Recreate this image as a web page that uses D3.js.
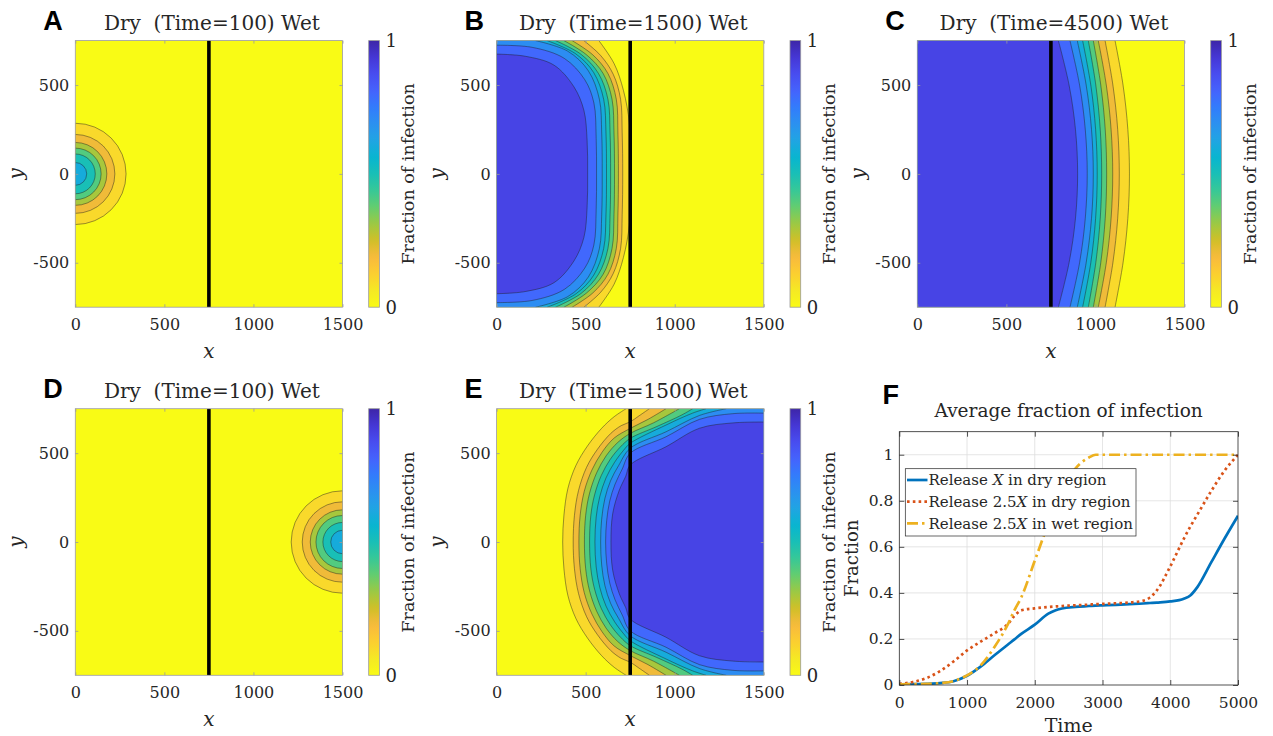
<!DOCTYPE html>
<html>
<head>
<meta charset="utf-8">
<script src="https://cdn.jsdelivr.net/npm/d3@7"></script>
<style>
  html, body { margin: 0; padding: 0; background: #ffffff; }
  svg { display: block; }
  text { font-family: "DejaVu Serif", serif; fill: #262626; }
</style>
</head>
<body>
<script>
// ---------------------------------------------------------------
// Data
// ---------------------------------------------------------------
const contourLevels = [0.1, 0.2, 0.3, 0.4, 0.5, 0.6, 0.7, 0.8, 0.9];
const xTicks = [0, 500, 1000, 1500];
const yTicks = [-500, 0, 500];
const interfaceX = 750;

// Time = 100: radii of the contour circles around the release point (levels 0.1 ... 0.6)
const dryReleaseRadii = [285, 222, 177, 145, 112, 64];
const wetReleaseRadii = [288, 226, 181, 149, 110, 66];

// Contour lines, upper half (y >= 0), listed from y = 0 out to the domain edge.
// Release in the dry region, Time = 1500 (levels 0.1 ... 0.9)
const dryT1500 = [
  [[748, 0], [748, 150], [745, 290], [712, 470], [660, 620], [574, 750]],
  [[708, 0], [705, 230], [696, 420], [655, 560], [585, 665], [490, 750]],
  [[684, 0], [681, 230], [672, 420], [625, 565], [540, 670], [424, 750]],
  [[662, 0], [659, 230], [648, 420], [598, 565], [505, 670], [378, 750]],
  [[640, 0], [637, 230], [625, 420], [572, 565], [475, 672], [331, 750]],
  [[617, 0], [614, 230], [601, 420], [545, 570], [445, 675], [284, 750]],
  [[593, 0], [590, 230], [577, 420], [515, 580], [400, 690], [219, 750]],
  [[561, 0], [559, 200], [546, 400], [495, 530], [380, 650], [200, 712], [0, 724]],
  [[511, 0], [508, 190], [490, 358], [434, 490], [322, 612], [160, 662], [0, 674]]
];

// Release in the dry region, Time = 4500
const dryT4500 = [
  [[1191, 0], [1182, 250], [1155, 500], [1110, 750]],
  [[1134, 0], [1125, 250], [1098, 500], [1054, 750]],
  [[1097, 0], [1088, 250], [1061, 500], [1016, 750]],
  [[1063, 0], [1055, 250], [1030, 500], [988, 750]],
  [[1035, 0], [1027, 250], [1002, 500], [960, 750]],
  [[1010, 0], [1001, 250], [974, 500], [928, 750]],
  [[988, 0], [978, 250], [948, 500], [898, 750]],
  [[954, 0], [943, 250], [911, 500], [857, 750]],
  [[900, 0], [888, 250], [852, 500], [792, 750]]
];

// Release in the wet region, Time = 1500
const wetT1500 = [
  [[371, 0], [378, 150], [400, 300], [445, 430], [510, 540], [590, 640], [660, 705], [727, 750]],
  [[430, 0], [437, 150], [460, 290], [505, 420], [565, 520], [640, 610], [700, 655], [750, 676], [800, 710], [858, 750]],
  [[462, 0], [469, 150], [492, 285], [535, 405], [592, 505], [660, 585], [750, 639], [850, 690], [951, 750]],
  [[493, 0], [500, 150], [522, 275], [562, 390], [615, 485], [680, 560], [750, 611], [880, 670], [1026, 750]],
  [[522, 0], [529, 150], [550, 265], [588, 375], [638, 465], [695, 535], [750, 583], [900, 650], [1040, 715], [1101, 750]],
  [[552, 0], [559, 140], [579, 255], [614, 360], [662, 448], [712, 515], [750, 555], [951, 658], [1100, 725], [1176, 750]],
  [[584, 0], [590, 130], [608, 245], [640, 345], [685, 430], [750, 527], [951, 620], [1139, 712], [1289, 750]],
  [[612, 0], [618, 120], [635, 230], [665, 325], [705, 410], [750, 499], [951, 592], [1139, 690], [1326, 722], [1500, 725]],
  [[642, 0], [652, 161], [689, 292], [725, 370], [750, 433], [951, 536], [1139, 640], [1326, 670], [1500, 675]]
];

// Average fraction of infection over time
const time = [0, 200, 400, 600, 800, 1000, 1200, 1400, 1600, 1700, 1800, 2000, 2200, 2300, 2400, 2600,
              2800, 2900, 3000, 3200, 3400, 3600, 3700, 3800, 4000, 4200, 4300, 4400, 4600, 4800, 5000];
const releaseXDry = [0.003, 0.004, 0.005, 0.008, 0.016, 0.040, 0.080, 0.128, 0.175, 0.198, 0.222, 0.262,
                     0.310, 0.324, 0.332, 0.339, 0.343, 0.345, 0.346, 0.348, 0.351, 0.354, 0.356, 0.358,
                     0.363, 0.375, 0.390, 0.425, 0.530, 0.635, 0.735];
const release25XDry = [0.005, 0.013, 0.030, 0.060, 0.102, 0.150, 0.188, 0.224, 0.264, 0.300, 0.324, 0.333,
                       0.339, 0.341, 0.343, 0.346, 0.349, 0.351, 0.352, 0.355, 0.358, 0.366, 0.380, 0.410,
                       0.515, 0.635, 0.690, 0.740, 0.840, 0.930, 1.000];
const release25XWet = [0.003, 0.004, 0.005, 0.008, 0.017, 0.042, 0.085, 0.163, 0.262, 0.325, 0.380, 0.540,
                       0.700, 0.772, 0.845, 0.940, 0.988, 1.000, 1.000, 1.000, 1.000, 1.000, 1.000, 1.000,
                       1.000, 1.000, 1.000, 1.000, 1.000, 1.000, 1.000];
const timeTicks = [0, 1000, 2000, 3000, 4000, 5000];
const fractionTicks = [0, 0.2, 0.4, 0.6, 0.8, 1];
const seriesNames = ["Release |X| in dry region", "Release 2.5|X| in dry region", "Release 2.5|X| in wet region"];

// ---------------------------------------------------------------
// Colour map: parula, reversed so that 0 is yellow and 1 is dark blue
// ---------------------------------------------------------------
const parulaStops = ["#3e26a8", "#4537d5", "#484df0", "#4563fd", "#327cfc", "#2b91ef", "#20a5e3",
                     "#08b5d0", "#19bfb6", "#37c897", "#64cd6f", "#9dc943", "#d1bf27", "#f8ba3d",
                     "#fccf30", "#f5e924", "#f9fb15"];
const parula = d3.scaleLinear()
  .domain(parulaStops.map((_, i) => i / (parulaStops.length - 1)))
  .range(parulaStops)
  .interpolate(d3.interpolateRgb);
const fillColour = v => parula(1 - v);

// plain number labels with an ASCII minus sign
const plainNumber = d => String(d);

// ---------------------------------------------------------------
// Layout
// ---------------------------------------------------------------
const W = 1273, H = 736;
const svg = d3.select("body").append("svg").attr("width", W).attr("height", H);
const defs = svg.append("defs");

const colLeft = [75.3, 496.6, 917.3];
const rowTop = [40.6, 408.7];
const plotW = 267.2, plotH = 266.6;
const cbOffset = 293.4, cbW = 10.7;

// colour bar gradient
const grad = defs.append("linearGradient").attr("id", "cbGrad")
  .attr("x1", 0).attr("y1", 1).attr("x2", 0).attr("y2", 0);
d3.range(0, 1.0001, 0.02).forEach(v => {
  grad.append("stop").attr("offset", v).attr("stop-color", fillColour(v));
});

const panels = [
  { id: "A", time: 100,  col: 0, row: 0, kind: "disc", cx: 0, radii: dryReleaseRadii },
  { id: "B", time: 1500, col: 1, row: 0, kind: "lines", lines: dryT1500, highSide: 0 },
  { id: "C", time: 4500, col: 2, row: 0, kind: "lines", lines: dryT4500, highSide: 0 },
  { id: "D", time: 100,  col: 0, row: 1, kind: "disc", cx: 1500, radii: wetReleaseRadii },
  { id: "E", time: 1500, col: 1, row: 1, kind: "lines", lines: wetT1500, highSide: 1500 }
];

function panelLetter(letter, x, y) {
  svg.append("text").attr("x", x).attr("y", y)
    .style("font-family", "'Liberation Sans', Arial, sans-serif")
    .style("font-weight", "bold").style("font-size", "27px").style("fill", "#000")
    .text(letter);
}

function contourPanel(p) {
  const left = colLeft[p.col], top = rowTop[p.row];
  const x = d3.scaleLinear().domain([0, 1500]).range([left, left + plotW]);
  const y = d3.scaleLinear().domain([-750, 750]).range([top + plotH, top]);
  const g = svg.append("g");

  defs.append("clipPath").attr("id", "clip" + p.id)
    .append("rect").attr("x", left).attr("y", top).attr("width", plotW).attr("height", plotH);
  const body = g.append("g").attr("clip-path", `url(#clip${p.id})`);

  body.append("rect").attr("x", left).attr("y", top).attr("width", plotW).attr("height", plotH)
    .attr("fill", fillColour(0));

  const strokeStyle = s => s.attr("stroke", "#202020").attr("stroke-opacity", 0.75)
    .attr("stroke-width", 0.6);

  if (p.kind === "disc") {
    p.radii.forEach((r, i) => {
      body.append("ellipse")
        .attr("cx", x(p.cx)).attr("cy", y(0))
        .attr("rx", x(r) - x(0)).attr("ry", y(0) - y(r))
        .attr("fill", fillColour(contourLevels[i]))
        .call(strokeStyle);
    });
  } else {
    const line = d3.line().x(d => x(d[0])).y(d => y(d[1])).curve(d3.curveCatmullRom.alpha(0.5));
    const fullLines = p.lines.map(upper => {
      const topHalf = upper.slice().reverse();
      const bottomHalf = upper.slice(1).map(([a, b]) => [a, -b]);
      return topHalf.concat(bottomHalf);
    });
    fullLines.forEach((pts, i) => {
      const first = pts[0], last = pts[pts.length - 1];
      const d = line(pts) +
        `L${x(p.highSide)},${y(last[1])}L${x(p.highSide)},${y(first[1])}Z`;
      body.append("path").attr("d", d).attr("fill", fillColour(contourLevels[i])).attr("stroke", "none");
    });
    fullLines.forEach(pts => {
      body.append("path").attr("d", line(pts)).attr("fill", "none").call(strokeStyle);
    });
  }

  // wet / dry interface
  body.append("line").attr("x1", x(interfaceX)).attr("x2", x(interfaceX))
    .attr("y1", top).attr("y2", top + plotH)
    .attr("stroke", "#000").attr("stroke-width", 3.6);

  // axes
  const axisColour = "#9a9a9a";
  const styleAxis = sel => {
    sel.select(".domain").remove();
    sel.selectAll(".tick line").attr("stroke", axisColour).attr("stroke-width", 0.8);
    sel.selectAll(".tick text").attr("font-family", null).style("font-size", "16px")
      .style("font-family", "'DejaVu Serif', serif").attr("fill", "#262626");
  };
  g.append("g").attr("transform", `translate(0,${top + plotH})`)
    .call(d3.axisBottom(x).tickValues(xTicks).tickFormat(plainNumber)
      .tickSizeInner(-3).tickSizeOuter(0).tickPadding(11.6))
    .call(styleAxis);
  g.append("g").attr("transform", `translate(0,${top})`)
    .call(d3.axisTop(x).tickValues(xTicks).tickSizeInner(-3).tickSizeOuter(0).tickFormat(""))
    .call(styleAxis);
  g.append("g").attr("transform", `translate(${left},0)`)
    .call(d3.axisLeft(y).tickValues(yTicks).tickFormat(plainNumber)
      .tickSizeInner(-3).tickSizeOuter(0).tickPadding(6))
    .call(styleAxis);
  g.append("g").attr("transform", `translate(${left + plotW},0)`)
    .call(d3.axisRight(y).tickValues(yTicks).tickSizeInner(-3).tickSizeOuter(0).tickFormat(""))
    .call(styleAxis);

  g.append("rect").attr("x", left).attr("y", top).attr("width", plotW).attr("height", plotH)
    .attr("fill", "none").attr("stroke", axisColour).attr("stroke-width", 0.8);

  // axis labels
  g.append("text").attr("x", left + plotW / 2).attr("y", top + plotH + 51)
    .attr("text-anchor", "middle").style("font-style", "italic").style("font-size", "20px").text("x");
  g.append("text").attr("transform", `translate(${left - 52.5},${top + plotH / 2}) rotate(-90)`)
    .attr("text-anchor", "middle").style("font-style", "italic").style("font-size", "20px").text("y");

  // title
  g.append("text").attr("x", left + plotW / 2 + 3).attr("y", top - 10.5)
    .attr("text-anchor", "middle").style("font-size", "20px").style("white-space", "pre")
    .text(`Dry  (Time=${p.time}) Wet`);

  panelLetter(p.id, left - 32, top - 10.5);

  // colour bar
  const cbX = left + cbOffset;
  const cbScale = d3.scaleLinear().domain([0, 1]).range([top + plotH, top]);
  g.append("rect").attr("x", cbX).attr("y", top).attr("width", cbW).attr("height", plotH)
    .attr("fill", "url(#cbGrad)").attr("stroke", axisColour).attr("stroke-width", 0.8);
  [0, 1].forEach(v => {
    g.append("text").attr("x", cbX + cbW + 6).attr("y", cbScale(v)).attr("dy", "0.36em")
      .style("font-size", "18px").text(v);
  });
  g.append("text").attr("transform", `translate(${cbX + 45},${top + plotH / 2}) rotate(-90)`)
    .attr("text-anchor", "middle").style("font-size", "17.5px").text("Fraction of infection");
}

panels.forEach(contourPanel);

// ---------------------------------------------------------------
// Panel F: average fraction of infection
// ---------------------------------------------------------------
(function () {
  const left = 899.3, right = 1238, top = 431.7, bottom = 685;
  const x = d3.scaleLinear().domain([0, 5000]).range([left, right]);
  const y = d3.scaleLinear().domain([0, 1.1]).range([bottom, top]);
  const g = svg.append("g");

  // grid
  g.append("g").selectAll("line").data(timeTicks.slice(1, -1)).join("line")
    .attr("x1", d => x(d)).attr("x2", d => x(d)).attr("y1", top).attr("y2", bottom)
    .attr("stroke", "#dedede").attr("stroke-width", 0.8);
  g.append("g").selectAll("line").data(fractionTicks.slice(1)).join("line")
    .attr("x1", left).attr("x2", right).attr("y1", d => y(d)).attr("y2", d => y(d))
    .attr("stroke", "#dedede").attr("stroke-width", 0.8);

  defs.append("clipPath").attr("id", "clipF")
    .append("rect").attr("x", left).attr("y", top).attr("width", right - left).attr("height", bottom - top);

  const series = [
    { values: releaseXDry,   colour: "#0072BD", dash: null },
    { values: release25XDry, colour: "#D95319", dash: "2.6 3.2" },
    { values: release25XWet, colour: "#EDB120", dash: "11 4 2.5 4" }
  ];
  const line = d3.line().x((d, i) => x(time[i])).y(d => y(d)).curve(d3.curveMonotoneX);
  const lines = g.append("g").attr("clip-path", "url(#clipF)");
  series.forEach(s => {
    lines.append("path").attr("d", line(s.values)).attr("fill", "none")
      .attr("stroke", s.colour).attr("stroke-width", 2.7)
      .attr("stroke-dasharray", s.dash);
  });

  const fmt = d => (d === 0 || d === 1) ? String(d) : d.toFixed(1);
  const styleAxis = sel => {
    sel.select(".domain").remove();
    sel.selectAll(".tick line").attr("stroke", "#262626").attr("stroke-width", 0.8);
    sel.selectAll(".tick text").attr("font-family", null).style("font-size", "15.5px")
      .style("font-family", "'DejaVu Serif', serif").attr("fill", "#262626");
  };
  g.append("g").attr("transform", `translate(0,${bottom})`)
    .call(d3.axisBottom(x).tickValues(timeTicks).tickFormat(plainNumber)
      .tickSizeInner(-5).tickSizeOuter(0).tickPadding(12))
    .call(styleAxis);
  g.append("g").attr("transform", `translate(0,${top})`)
    .call(d3.axisTop(x).tickValues(timeTicks).tickSizeInner(-5).tickSizeOuter(0).tickFormat(""))
    .call(styleAxis);
  g.append("g").attr("transform", `translate(${left},0)`)
    .call(d3.axisLeft(y).tickValues(fractionTicks).tickSizeInner(-5).tickSizeOuter(0).tickPadding(6).tickFormat(fmt))
    .call(styleAxis);
  g.append("g").attr("transform", `translate(${right},0)`)
    .call(d3.axisRight(y).tickValues(fractionTicks).tickSizeInner(-5).tickSizeOuter(0).tickFormat(""))
    .call(styleAxis);

  g.append("rect").attr("x", left).attr("y", top).attr("width", right - left).attr("height", bottom - top)
    .attr("fill", "none").attr("stroke", "#262626").attr("stroke-width", 0.8);

  g.append("text").attr("x", (left + right) / 2).attr("y", 732).attr("text-anchor", "middle")
    .style("font-size", "19px").text("Time");
  g.append("text").attr("transform", `translate(${left - 41.5},${(top + bottom) / 2}) rotate(-90)`)
    .attr("text-anchor", "middle").style("font-size", "18px").text("Fraction");
  g.append("text").attr("x", (left + right) / 2).attr("y", 417).attr("text-anchor", "middle")
    .style("font-size", "18.5px").text("Average fraction of infection");

  panelLetter("F", 882.5, 404);

  // legend
  const lg = g.append("g");
  lg.append("rect").attr("x", 905.3).attr("y", 468.7).attr("width", 230.7).attr("height", 67.3)
    .attr("fill", "#fff").attr("stroke", "#262626").attr("stroke-width", 0.7);
  const rowY = [480, 501.7, 523.3];
  series.forEach((s, i) => {
    lg.append("line").attr("x1", 907).attr("x2", 927.5).attr("y1", rowY[i]).attr("y2", rowY[i])
      .attr("stroke", s.colour).attr("stroke-width", 2.7).attr("stroke-dasharray", s.dash);
    const t = lg.append("text").attr("x", 928.5).attr("y", rowY[i] + 5.2).style("font-size", "15px")
      .style("white-space", "pre");
    seriesNames[i].split("|").forEach((part, j) => {
      t.append("tspan").style("font-style", j === 1 ? "italic" : "normal").text(part);
    });
  });
})();
</script>
</body>
</html>
